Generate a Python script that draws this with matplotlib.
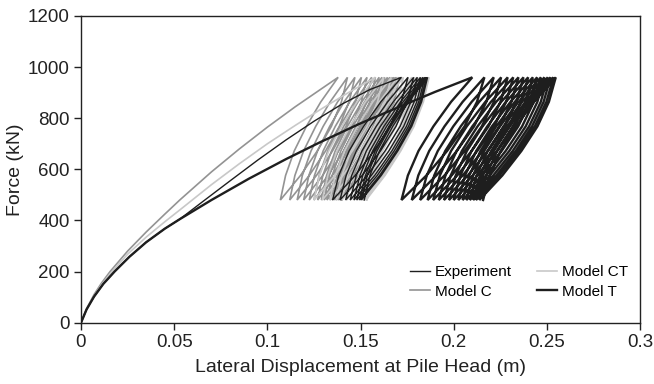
import matplotlib
matplotlib.use("Agg")
import matplotlib.pyplot as plt

plt.rcParams["font.family"] = ["Liberation Sans", "DejaVu Sans"]

# load limits of the cycles (kN)
F_MAX = 960
F_MIN = 480

# shape of one half-cycle, read off the loops:
# fraction of force travel -> fraction of displacement travel
SHAPE_F = [0.0, 0.2, 0.4, 0.6, 0.8, 1.0]
UNLOAD_X = [0.0, 0.30, 0.55, 0.76, 0.91, 1.0]
RELOAD_X = [0.0, 0.30, 0.55, 0.76, 0.91, 1.0]

# ---- Experiment ----
exp_bx = [0, 0.003, 0.007, 0.012, 0.018, 0.026, 0.035, 0.045, 0.053, 0.065, 0.08, 0.095,
          0.11, 0.125, 0.14, 0.155]
exp_by = [0, 52, 102, 152, 200, 258, 315, 368, 405, 472, 555, 637,
          715, 788, 855, 912]
exp_peaks = [0.172, 0.1755, 0.1785, 0.1805, 0.1822, 0.1835, 0.1845, 0.1853, 0.186]
exp_valleys = [0.135, 0.139, 0.142, 0.1445, 0.1465, 0.148, 0.1495, 0.1505, 0.152]

# ---- Model C ----
c_bx = [0, 0.003, 0.007, 0.011, 0.0156, 0.025, 0.035, 0.045, 0.053, 0.07, 0.085, 0.1,
        0.115, 0.128]
c_by = [0, 55, 110, 155, 200, 280, 355, 425, 480, 590, 680, 765,
        845, 910]
c_peaks = [0.138, 0.143, 0.147, 0.1505, 0.1535, 0.156, 0.158, 0.160, 0.1615, 0.163,
           0.1645, 0.1658, 0.167, 0.168, 0.169, 0.1698, 0.1705, 0.171]
c_valleys = [0.107, 0.112, 0.116, 0.1195, 0.1225, 0.125, 0.127, 0.129, 0.1305, 0.132,
             0.1335, 0.1348, 0.136, 0.137, 0.138, 0.1388, 0.1395, 0.140]

# ---- Model CT ----
ct_bx = [0, 0.003, 0.007, 0.011, 0.016, 0.025, 0.035, 0.045, 0.053, 0.07, 0.085, 0.1,
         0.115, 0.128, 0.143]
ct_by = [0, 52, 104, 148, 195, 268, 335, 395, 441, 540, 622, 700,
         772, 832, 898]
ct_peaks = [0.158, 0.1625, 0.1665, 0.170, 0.173, 0.1755, 0.1775, 0.1792, 0.1807, 0.182,
            0.1832, 0.1842, 0.185, 0.1857, 0.1863, 0.1868]
ct_valleys = [0.125, 0.1295, 0.1335, 0.137, 0.140, 0.1425, 0.1445, 0.1462, 0.1477,
              0.149, 0.150, 0.151, 0.1518, 0.1524, 0.153, 0.1535]

# ---- Model T ----
t_bx = [0, 0.003, 0.007, 0.012, 0.018, 0.026, 0.035, 0.045, 0.053, 0.07, 0.09, 0.11,
        0.128, 0.15, 0.171, 0.19]
t_by = [0, 52, 102, 152, 200, 258, 315, 368, 405, 480, 563, 640,
        705, 780, 845, 903]
t_peaks = [0.210, 0.2165, 0.2215, 0.2255, 0.229, 0.232, 0.2348, 0.2375, 0.240, 0.2425,
           0.2448, 0.2468, 0.2487, 0.2505, 0.252, 0.2535, 0.2548]
t_valleys = [0.172, 0.1775, 0.182, 0.186, 0.189, 0.192, 0.1948, 0.1975, 0.200, 0.2025,
             0.2048, 0.2068, 0.2087, 0.2105, 0.212, 0.2138, 0.2158]

x_ticks = [0, 0.05, 0.1, 0.15, 0.2, 0.25, 0.3]
x_ticklabels = ["0", "0.05", "0.1", "0.15", "0.2", "0.25", "0.3"]
y_ticks = [0, 200, 400, 600, 800, 1000, 1200]


def build_path(bx, by, peaks, valleys):
    # backbone, then unload / reload loops between F_MIN and F_MAX
    xs = list(bx)
    ys = list(by)
    prev_v = None
    for p, v in zip(peaks, valleys):
        if prev_v is not None:
            for f, s in zip(SHAPE_F[1:], RELOAD_X[1:]):
                xs.append(prev_v + (p - prev_v) * s)
                ys.append(F_MIN + (F_MAX - F_MIN) * f)
        else:
            xs.append(p)
            ys.append(F_MAX)
        for f, s in zip(SHAPE_F[1:], UNLOAD_X[1:]):
            xs.append(p - (p - v) * s)
            ys.append(F_MAX - (F_MAX - F_MIN) * f)
        prev_v = v
    return xs, ys


fig = plt.figure(figsize=(6.54, 3.84), dpi=100)
ax = fig.add_axes([81 / 654, 1 - 322.7 / 384, 559 / 654, 306.7 / 384])

series = [
    ("Experiment", exp_bx, exp_by, exp_peaks, exp_valleys, "#1e1e1e", 1.0, 3),
    ("Model C", c_bx, c_by, c_peaks, c_valleys, "#939393", 1.2, 1),
    ("Model CT", ct_bx, ct_by, ct_peaks, ct_valleys, "#c8c8c8", 1.2, 2),
    ("Model T", t_bx, t_by, t_peaks, t_valleys, "#1e1e1e", 1.7, 4),
]

handles = {}
for name, bx, by, pk, vl, col, lw, z in series:
    xs, ys = build_path(bx, by, pk, vl)
    line, = ax.plot(xs, ys, color=col, lw=lw, zorder=z, solid_joinstyle="miter")
    handles[name] = line

ax.set_xlim(0, 0.3)
ax.set_ylim(0, 1200)
ax.set_xticks(x_ticks)
ax.set_xticklabels(x_ticklabels)
ax.set_yticks(y_ticks)
ax.tick_params(direction="out", length=5, width=1.0, labelsize=13.5, pad=3,
               colors="#222222")
for sp in ax.spines.values():
    sp.set_color("#222222")
    sp.set_linewidth(1.0)

ax.set_xlabel("Lateral Displacement at Pile Head (m)", fontsize=14, labelpad=6,
              color="#222222")
ax.set_ylabel("Force (kN)", fontsize=14, labelpad=3, color="#222222")

order = ["Experiment", "Model C", "Model CT", "Model T"]
ax.legend([handles[n] for n in order], order, ncol=2, frameon=False,
          fontsize=11, loc="center left", bbox_to_anchor=(0.575, 0.133),
          borderpad=0, handlelength=1.3, handletextpad=0.3, columnspacing=1.7,
          labelspacing=0.35)

fig.savefig("out.png", dpi=100)
